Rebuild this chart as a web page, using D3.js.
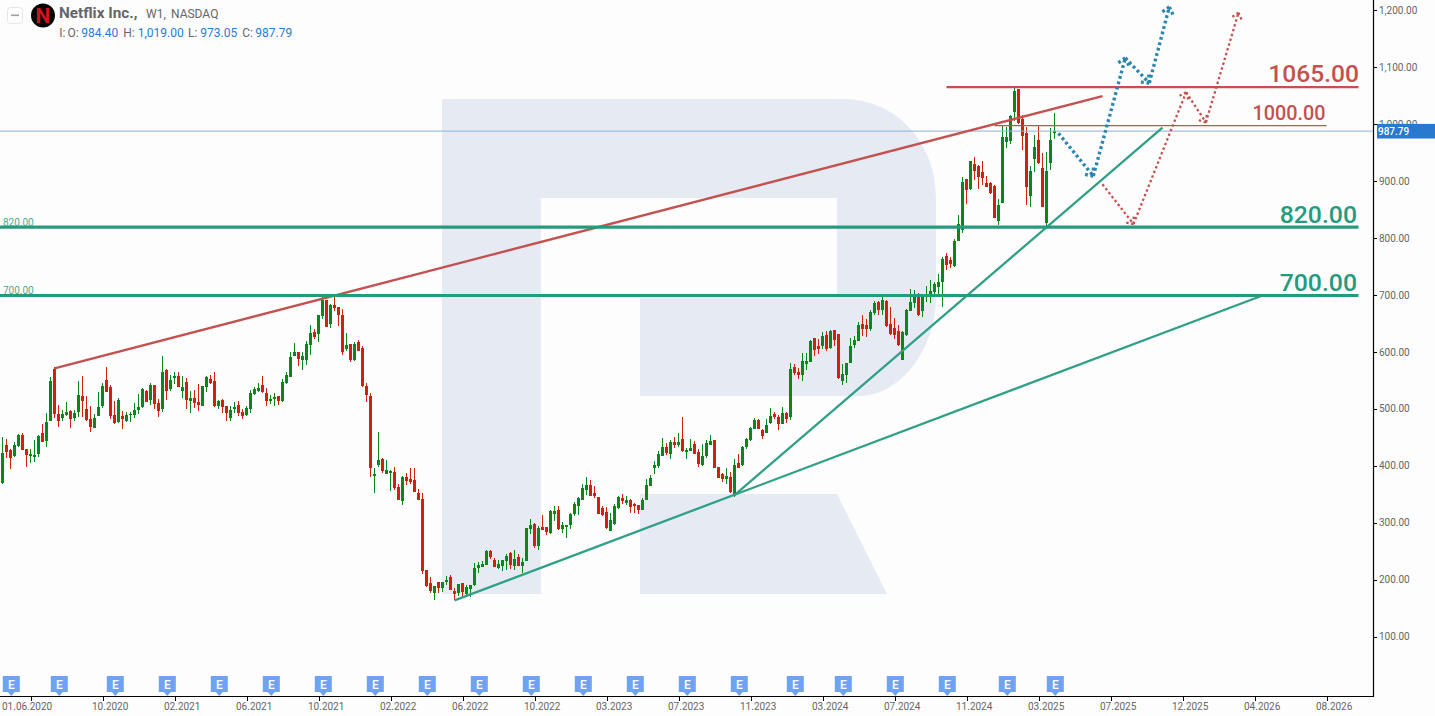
<!DOCTYPE html>
<html><head><meta charset="utf-8">
<style>
html,body{margin:0;padding:0;background:#fdfdfd;overflow:hidden}
svg{display:block;font-family:Roboto,sans-serif}
</style>
<script src="https://cdn.jsdelivr.net/npm/d3@7"></script>
</head><body><svg id="c" width="1435" height="716"></svg>
<script>
const opens=[369,436,427,417,435,454,429,417,415,420,
457,444,478,570,491,484,489,496,483,494,
522,500,482,467,488,505,550,538,489,477,
487,478,490,489,498,503,531,515,541,510,
500,568,535,554,557,531,547,514,519,512,
505,538,552,549,505,515,505,484,500,507,
494,489,500,526,531,542,528,514,517,522,
514,545,556,593,600,586,586,612,635,631,
663,691,649,682,679,665,605,614,586,617,
607,540,522,382,401,412,385,387,389,362,
338,380,377,375,352,341,217,194,176,196,
185,196,204,180,176,194,174,183,190,220,
222,225,250,234,220,224,232,246,224,239,
224,232,289,297,259,292,292,282,315,322,
289,292,296,315,329,340,357,366,352,345,
326,319,285,297,326,343,334,340,333,331,
322,340,364,396,399,417,433,420,442,436,
447,426,426,438,424,401,417,436,445,398,
385,377,380,347,405,401,433,445,464,480,
463,457,475,491,485,473,492,485,573,564,
559,579,582,624,610,610,630,607,638,631,
549,559,580,612,619,649,647,640,668,687,
673,689,649,642,637,586,630,672,686,698,
672,698,702,705,714,723,768,761,751,795,
814,904,886,930,926,916,897,897,891,830,
861,969,970,1021,1062,1009,984,874,939,972,
923,826,932,984.40];
const highs=[450,447,429,441,456,458,429,429,445,454,
474,492,556,574,507,498,512,498,498,549,
557,522,505,491,529,545,573,542,514,519,
496,494,494,510,526,536,533,545,542,517,
593,570,559,565,565,557,554,531,533,543,
540,557,559,565,515,517,505,505,512,514,
500,505,533,538,545,558,536,524,528,522,
552,565,600,616,600,600,619,647,640,665,
697,691,684,697,679,675,633,614,617,621,
610,545,528,396,459,413,410,392,398,368,
382,387,396,396,359,352,217,204,189,196,
196,206,208,185,192,194,190,190,229,231,
232,252,252,238,234,234,245,248,252,245,
238,290,306,299,294,313,292,322,329,329,
301,296,317,336,345,368,380,375,364,345,
329,327,317,333,347,350,347,341,334,331,
343,377,384,408,426,449,440,445,450,457,
485,431,447,443,429,438,445,454,445,398,
387,396,389,412,420,435,449,468,484,482,
464,482,501,494,489,503,494,580,579,572,
598,598,621,624,622,635,637,638,638,631,
579,580,624,628,652,665,658,673,689,689,
698,691,679,659,647,637,675,710,709,703,
700,716,726,723,737,767,774,767,798,840,
907,904,935,942,928,935,909,898,893,868,
997,995,1016,1065,1062,1016,995,926,981,997,
949,951,993,1019];
const lows=[368,414,394,416,433,427,398,405,406,415,
441,433,478,484,468,478,487,466,479,486,
485,478,460,466,487,502,529,482,473,475,
464,477,477,484,491,501,512,507,500,485,
494,515,531,543,538,519,500,492,501,496,
505,529,543,503,500,492,478,478,492,487,
482,487,493,524,529,528,505,508,505,507,
512,543,556,593,575,568,577,594,623,617,
658,644,642,672,645,594,601,582,584,601,
538,512,380,352,398,387,385,355,357,340,
331,366,368,354,340,210,187,176,164,176,
178,190,182,164,171,171,171,169,188,211,
222,225,236,222,218,215,217,218,217,224,
211,232,280,255,252,287,278,280,303,287,
282,273,289,312,313,340,348,347,343,315,
312,289,285,296,324,333,331,317,317,315,
322,340,364,385,396,417,419,412,431,433,
424,412,426,420,398,399,413,436,396,378,
371,368,352,345,396,399,429,443,464,464,
447,457,473,482,463,473,475,480,559,552,
549,568,582,593,596,605,601,605,610,552,
542,545,580,607,619,628,626,637,665,665,
665,644,630,622,610,586,628,672,677,663,
661,687,686,702,700,679,744,747,749,795,
809,860,884,902,886,893,890,877,835,823,
861,958,965,1005,1000,955,858,854,916,930,
854,821,919,973.05];
const closes=[423,424,414,436,454,428,419,420,419,453,
442,477,549,491,479,490,494,482,492,524,
514,481,468,484,503,540,530,488,475,515,
482,489,491,498,503,535,512,542,508,496,
565,531,550,557,538,538,515,519,510,507,
540,556,545,505,514,503,492,498,503,492,
487,501,528,535,536,529,514,517,521,514,
547,559,591,600,587,593,614,633,626,665,
691,644,682,677,665,600,612,586,614,601,
540,524,396,385,410,391,392,391,361,340,
380,373,371,354,340,215,189,180,189,185,
196,199,182,174,192,178,187,190,220,225,
227,250,239,222,227,234,241,225,236,224,
231,290,296,259,290,287,283,320,320,289,
296,296,315,333,343,361,366,347,347,315,
313,290,304,329,345,338,340,327,329,322,
340,366,378,401,420,433,422,442,436,442,
426,427,431,420,403,417,440,443,396,378,
377,382,354,401,396,433,447,466,480,464,
452,471,487,485,473,492,482,570,563,559,
584,584,619,603,605,628,605,637,621,554,
561,580,610,621,647,640,640,670,686,673,
691,645,631,630,612,635,673,687,696,665,
698,701,707,719,723,763,752,754,795,825,
898,884,935,918,907,905,890,879,835,858,
977,977,1014,1058,1002,979,890,918,960,932,
854,918,972,987.79];

const priceTicks=[100,200,300,400,500,600,700,800,900,1000,1100,1200];
const timeLabels=["01.06.2020","10.2020","02.2021","06.2021","10.2021","02.2022","06.2022","10.2022","03.2023","07.2023","11.2023","03.2024","07.2024","11.2024","03.2025","07.2025","12.2025","04.2026","08.2026"];
const timeIndex=[7,25,43,61,79,97,115,133,151,169,187,205,223,241,259,277,295,313,331];
const earningsIndex=[2,14,28,41,54,67,80,93,106,119,132,145,158,171,184,198,210,223,236,251,263];
const lastPrice=987.79;
const headerValues=["984.40","1,019.00","973.05","987.79"];
// trend lines as [bar index, price]
const redTrend=[[13,571],[275,1049.4]];
const greenTrendA=[[113,163.4],[315,699]];
const greenTrendB=[[183,348.4],[290,993.7]];
const blueForecast=[[264,983.9],[272.7,908.9],[280.7,1116.2],[286.7,1072.3],[291.7,1205.8]];
const redForecast=[[275,894.3],[282.75,824.5],[295.9,1055.9],[300.85,1003.2],[309,1195.8]];
const levelValues=[1065,997.5,819,699];
const levelStart=[236,248,-1,-1];
const levelEnd=[339,331,339,339];
const levelLabels=["1065.00","1000.00","820.00","700.00"];

const x=d3.scaleLinear().domain([0,343]).range([2.5,2.5+4*343]);
const y=d3.scaleLinear().domain([1200,100]).range([10.3,636.5]);
const svg=d3.select("#c");
const GREEN="#08871d",RED="#d0210c",TEAL="#259a7d",BRICK="#c4504f",BLUE="#2a86ae";
svg.append("rect").attr("width",1435).attr("height",716).attr("fill","#fdfdfd");

// watermark
svg.append("path").attr("fill","#e6ebf3")
 .attr("d","M442 99H843C898 99 936 145 936 197V297C936 352 898 396 860 396H640V297H837V198H541V594H442Z M640 494H837L887 594H640Z");

// candles
const bars=d3.range(opens.length);
const cg=svg.append("g").attr("shape-rendering","crispEdges");
cg.selectAll(".w").data(bars).join("rect").attr("class","w")
 .attr("x",i=>x(i)-.5).attr("width",1)
 .attr("y",i=>y(highs[i])).attr("height",i=>y(lows[i])-y(highs[i]))
 .attr("fill",i=>closes[i]>=opens[i]?GREEN:RED);
cg.selectAll(".b").data(bars).join("rect").attr("class","b")
 .attr("x",i=>x(i)-1.5).attr("width",3)
 .attr("y",i=>y(Math.max(opens[i],closes[i])))
 .attr("height",i=>Math.max(1.5,Math.abs(y(opens[i])-y(closes[i]))))
 .attr("fill",i=>closes[i]>=opens[i]?GREEN:RED);

// price line
svg.append("line").attr("x1",0).attr("x2",1373).attr("y1",y(lastPrice)).attr("y2",y(lastPrice))
 .attr("stroke","#8fb1da").attr("stroke-width",1);

// trend lines
const line=d3.line().x(d=>x(d[0])).y(d=>y(d[1]));
[[redTrend,BRICK],[greenTrendA,"#2fa085"],[greenTrendB,"#2fa085"]].forEach(([d,c])=>{
 svg.append("path").attr("d",line(d)).attr("fill","none").attr("stroke",c).attr("stroke-width",2.3);
});

// levels
levelValues.forEach((v,i)=>{
 const isRed=i<2;
 svg.append("line").attr("x1",x(levelStart[i])).attr("x2",x(levelEnd[i])).attr("y1",y(v)).attr("y2",y(v))
  .attr("stroke",isRed?BRICK:TEAL).attr("stroke-width",i===1?1.2:(i===0?2.4:3.2));
});
const bigText=[[1359,82,24.6,BRICK,0],[1325.5,120,19.8,BRICK,1],[1357,223,24.8,TEAL,2],[1357,291,24.8,TEAL,3]];
bigText.forEach(([px,py,fs,c,k])=>{
 svg.append("text").attr("x",px).attr("y",py).attr("text-anchor","end").attr("font-size",fs)
  .attr("font-weight",500).attr("fill",c).text(levelLabels[k]);
});
[[2,226],[3,294]].forEach(([k,py])=>{
 svg.append("text").attr("x",3).attr("y",py).attr("font-size",10).attr("fill","#4aaa92").text(levelLabels[k]);
});

// dotted forecasts with an arrowhead at every vertex
function arrows(pts,color,w,dash,len){
 const g=svg.append("g").attr("fill","none").attr("stroke",color).attr("stroke-width",w).attr("stroke-dasharray",dash);
 const P=pts.map(d=>[x(d[0]),y(d[1])]);
 for(let i=1;i<P.length;i++){
  const a=P[i-1],b=P[i];
  g.append("path").attr("d",d3.line()([a,b]));
  const t=Math.atan2(b[1]-a[1],b[0]-a[0]);
  [-.7,.7].forEach(s=>{
   g.append("path").attr("d",d3.line()([b,[b[0]-len*Math.cos(t+s),b[1]-len*Math.sin(t+s)]]));
  });
 }
}
arrows(blueForecast,BLUE,3.4,"2.8 2.8",9);
arrows(redForecast,BRICK,2.3,"2.4 2.6",8);

// earnings markers
const eg=svg.append("g").selectAll("g").data(earningsIndex).join("g")
 .attr("transform",d=>`translate(${x(d)+.8},0)`);
eg.append("path").attr("fill","#6fa3f0").attr("d","M-8.5 676H8.5V692H3.5L0 696L-3.5 692H-8.5Z");
eg.append("text").attr("y",689).attr("text-anchor","middle").attr("fill","#fff")
 .attr("font-size",12).attr("font-weight",500).text("E");

// axes
const xAxis=d3.axisBottom(x).tickValues(timeIndex).tickSize(5).tickSizeOuter(0)
 .tickFormat((d,i)=>timeLabels[i]);
const xg=svg.append("g").attr("transform","translate(0,696)").call(xAxis);
xg.select(".domain").remove();
xg.selectAll(".tick line").attr("stroke","#000").attr("shape-rendering","crispEdges");
xg.selectAll(".tick text").attr("fill","#666").attr("font-size",10).attr("font-family","Roboto")
 .attr("text-anchor","start").attr("y",0).attr("dy",null)
 .attr("transform",(d,i)=>i===0?"translate(-29,14)":"translate(-11,14)");

const yAxis=d3.axisRight(y).tickValues(priceTicks).tickSize(4).tickSizeOuter(0)
 .tickFormat(d=>d3.format(",.2f")(d));
const yg=svg.append("g").attr("transform","translate(1373,0)").call(yAxis);
yg.select(".domain").remove();
yg.selectAll(".tick line").attr("stroke","#000").attr("shape-rendering","crispEdges");
yg.selectAll(".tick text").attr("fill","#666").attr("font-size",10).attr("font-family","Roboto")
 .attr("x",6);

svg.append("path").attr("d","M0 696.5H1373.5V0").attr("fill","none").attr("stroke","#000").attr("stroke-width",1.2);

// last price tag
svg.append("rect").attr("x",1377).attr("y",y(lastPrice)-7.2).attr("width",58).attr("height",14.6).attr("fill","#2b78cf");
svg.append("text").attr("x",1378).attr("y",y(lastPrice)+3.6).attr("font-size",10).attr("font-weight",500)
 .attr("fill","#fff").text(lastPrice.toFixed(2));

// header
svg.append("rect").attr("x",7.5).attr("y",7.5).attr("width",15).attr("height",16).attr("rx",3)
 .attr("fill","#fdfdfd").attr("stroke","#e2e5ec");
svg.append("rect").attr("x",11).attr("y",14.5).attr("width",8).attr("height",1.6).attr("fill","#9a9fa8");
svg.append("circle").attr("cx",43).attr("cy",15.5).attr("r",12).attr("fill","#050505");
svg.append("text").attr("x",43).attr("y",23).attr("text-anchor","middle").attr("font-size",21).attr("font-weight",700)
 .attr("font-family","'Liberation Sans Narrow','Roboto'").attr("fill","#d1141b").text("N");
function hdr(px,py,fs,fw,c,t){svg.append("text").attr("x",px).attr("y",py).attr("font-size",fs).attr("font-weight",fw).attr("fill",c).text(t);}
hdr(59,18,15.3,700,"#666","Netflix Inc.,");
hdr(146,18,12,400,"#666","W1,");
hdr(171,18,12,400,"#666","NASDAQ");
const GREY="#666",LINK="#2a7ad6";
hdr(59.3,37,12,400,GREY,"I:");
hdr(67.5,37,12,400,GREY,"O:");
hdr(81.3,37,12,400,LINK,headerValues[0]);
hdr(123.3,37,12,400,GREY,"H:");
hdr(137.7,37,12,400,LINK,headerValues[1]);
hdr(188,37,12,400,GREY,"L:");
hdr(200.3,37,12,400,LINK,headerValues[2]);
hdr(242.3,37,12,400,GREY,"C:");
hdr(255.3,37,12,400,LINK,headerValues[3]);
</script></body></html>
